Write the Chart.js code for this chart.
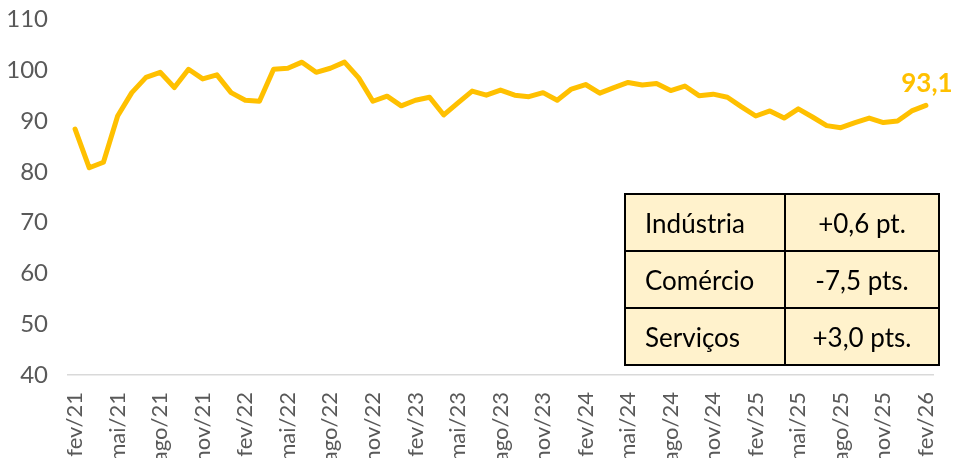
<!DOCTYPE html>
<html>
<head>
<meta charset="utf-8">
<script src="https://cdn.jsdelivr.net/npm/chart.js@4"></script>
<style>
  html, body { margin: 0; padding: 0; background: #fff; overflow: hidden; }
  #wrap { position: relative; width: 958px; height: 458px; }
  #c { display: block; }
  #tbl {
    position: absolute; left: 624px; top: 193px; width: 316px; height: 167px;
    border-collapse: collapse; font-family: Lato, sans-serif; font-size: 26px; color: #000;
  }
  #tbl td { background: #FFF2CC; border: 2px solid #000; padding: 0; height: 55px; }
  #tbl td.s { text-align: left; padding-left: 19px; width: 139px; }
  #tbl td.v { text-align: center; }
</style>
</head>
<body>
<div id="wrap">
  <canvas id="c" width="958" height="458"></canvas>
  <table id="tbl"></table>
</div>
<script>
const months = ["jan","fev","mar","abr","mai","jun","jul","ago","set","out","nov","dez"];
const categories = [];
for (let y = 21, m = 1; categories.length < 61; ) {
  categories.push(months[m] + "/" + y);
  m++; if (m === 12) { m = 0; y++; }
}
const values = [
  88.4, 80.8, 81.9, 91.0, 95.6, 98.6, 99.6, 96.6, 100.2, 98.3, 99.1,
  95.6, 94.1, 93.9, 100.2, 100.4, 101.6, 99.6, 100.4, 101.6, 98.5, 93.9, 94.9,
  93.0, 94.1, 94.7, 91.2, 93.6, 95.9, 95.1, 96.1, 95.1, 94.8, 95.6, 94.1,
  96.3, 97.2, 95.5, 96.6, 97.6, 97.1, 97.4, 96.0, 96.9, 95.0, 95.3, 94.7,
  92.8, 91.0, 92.0, 90.6, 92.4, 90.8, 89.1, 88.7, 89.7, 90.6, 89.7, 90.0,
  92.0, 93.1
];
const yTicks = [40, 50, 60, 70, 80, 90, 100, 110];
const tableSectors = ["Indústria", "Comércio", "Serviços"];
const tableChanges = ["+0,6 pt.", "-7,5 pts.", "+3,0 pts."];

const tbl = document.getElementById('tbl');
tableSectors.forEach((s, i) => {
  const tr = document.createElement('tr');
  const a = document.createElement('td'); a.className = 's'; a.textContent = s;
  const b = document.createElement('td'); b.className = 'v'; b.textContent = tableChanges[i];
  tr.appendChild(a); tr.appendChild(b); tbl.appendChild(tr);
});

const lastLabel = {
  id: 'lastLabel',
  afterDatasetsDraw(chart) {
    const meta = chart.getDatasetMeta(0);
    const p = meta.data[meta.data.length - 1];
    const ctx = chart.ctx;
    ctx.save();
    ctx.font = 'bold 26px Lato, sans-serif';
    ctx.fillStyle = '#FFC000';
    ctx.textAlign = 'center';
    ctx.textBaseline = 'alphabetic';
    ctx.fillText(values[values.length - 1].toFixed(1).replace('.', ','), p.x + 1, p.y - 13);
    ctx.restore();
  }
};

function zeroPad(s) { s.paddingTop = 0; s.paddingBottom = 0; s.paddingLeft = 0; s.paddingRight = 0; }

new Chart(document.getElementById('c'), {
  type: 'line',
  data: {
    labels: categories,
    datasets: [{
      data: values,
      borderColor: '#FFC000',
      borderWidth: 5,
      pointRadius: 0,
      tension: 0,
      borderJoinStyle: 'round',
      borderCapStyle: 'round',
      clip: false
    }]
  },
  options: {
    responsive: false,
    animation: false,
    layout: { autoPadding: false, padding: { top: 19.5, right: 25, left: 0, bottom: 0 } },
    plugins: { legend: { display: false }, tooltip: { enabled: false } },
    scales: {
      x: {
        offset: true,
        grid: { display: false, drawTicks: false },
        border: { display: true, color: '#d9d9d9', width: 1.5 },
        ticks: {
          autoSkip: false, minRotation: 90, maxRotation: 90, padding: 17,
          color: '#595959', font: { family: 'Lato, sans-serif', size: 22 },
          callback: (v, i) => (i % 3 === 0 ? categories[i] : '')
        },
        afterFit: s => { s.height = 83; zeroPad(s); }
      },
      y: {
        min: yTicks[0], max: yTicks[yTicks.length - 1],
        grid: { display: false, drawTicks: false },
        border: { display: false },
        afterBuildTicks: s => { s.ticks = yTicks.map(v => ({ value: v })); },
        ticks: {
          padding: 20, color: '#595959',
          font: { family: 'Lato, sans-serif', size: 24 }
        },
        afterFit: s => { s.width = 68; zeroPad(s); }
      }
    }
  },
  plugins: [lastLabel]
});
</script>
</body>
</html>
